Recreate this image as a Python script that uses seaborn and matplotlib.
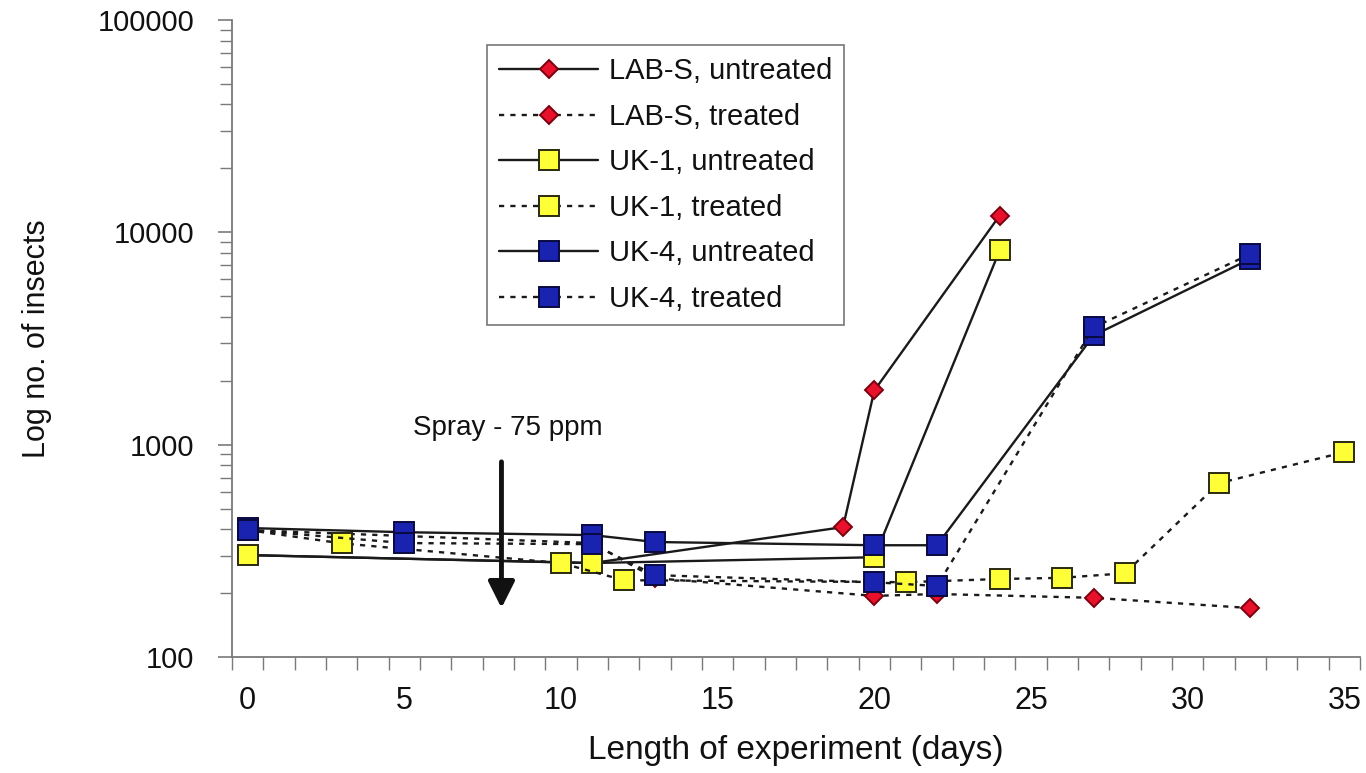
import numpy as np
import pandas as pd
import matplotlib
matplotlib.use("Agg")
import matplotlib.pyplot as plt
import seaborn as sns
from matplotlib.ticker import FixedLocator, LogLocator, NullFormatter, FuncFormatter

# ---------------- data ----------------
lab_u_days = [0, 11, 19, 20, 24]
lab_u_vals = [302, 277, 409, 1800, 12000]

lab_t_days = [0, 11, 13, 20, 22, 27, 32]
lab_t_vals = [396, 344, 235, 194, 198, 190, 170]

uk1_u_days = [0, 11, 20, 24]
uk1_u_vals = [302, 277, 295, 8220]

uk1_t_days = [0, 3, 10, 12, 21, 24, 26, 28, 31, 35]
uk1_t_vals = [396, 343, 277, 230, 225, 233, 236, 248, 659, 922]

uk4_u_days = [0, 5, 11, 13, 20, 22, 27, 32]
uk4_u_vals = [405, 387, 375, 348, 336, 336, 3270, 7500]

uk4_t_days = [0, 5, 11, 13, 20, 22, 27, 32]
uk4_t_vals = [396, 344, 340, 243, 225, 216, 3570, 7900]

series_labels = ["LAB-S, untreated", "LAB-S, treated",
                 "UK-1, untreated", "UK-1, treated",
                 "UK-4, untreated", "UK-4, treated"]

x_tick_values = [0, 5, 10, 15, 20, 25, 30, 35]
y_tick_values = [100, 1000, 10000, 100000]

spray_label = "Spray - 75 ppm"
spray_day = 8.1
spray_top = 830
spray_tip = 170
spray_text_val = 1110
spray_text_day = 8.3

# ---------------- styling ----------------
sns.set_theme(style="white")
plt.rcParams["font.family"] = ["Liberation Sans", "DejaVu Sans"]

RED = "#e8102a"; RED_E = "#7a0010"
YEL = "#ffff38"; YEL_E = "#2a2a10"
BLU = "#1a22b0"; BLU_E = "#0a0a40"
LINE = "#1a1a1a"
DASH = (0, (2.2, 2.6))

styles = [
    dict(days=lab_u_days, vals=lab_u_vals, ls="-",  marker="D", ms=9.5, fc=RED, ec=RED_E),
    dict(days=lab_t_days, vals=lab_t_vals, ls=DASH, marker="D", ms=9.5, fc=RED, ec=RED_E),
    dict(days=uk1_u_days, vals=uk1_u_vals, ls="-",  marker="s", ms=14, fc=YEL, ec=YEL_E),
    dict(days=uk1_t_days, vals=uk1_t_vals, ls=DASH, marker="s", ms=14, fc=YEL, ec=YEL_E),
    dict(days=uk4_u_days, vals=uk4_u_vals, ls="-",  marker="s", ms=14, fc=BLU, ec=BLU_E),
    dict(days=uk4_t_days, vals=uk4_t_vals, ls=DASH, marker="s", ms=14, fc=BLU, ec=BLU_E),
]

fig = plt.figure(figsize=(13.66, 7.73), dpi=100)
fig.patch.set_facecolor("white")
ax = fig.add_axes([232 / 1366, 116 / 773, 1128 / 1366, 637 / 773])
ax.set_facecolor("white")

for lab, st in zip(series_labels, styles):
    df = pd.DataFrame({"day": st["days"], "count": st["vals"]})
    sns.lineplot(data=df, x="day", y="count", ax=ax, color=LINE, lw=1.7,
                 linestyle=st["ls"], marker=st["marker"], markersize=st["ms"],
                 markerfacecolor=st["fc"], markeredgecolor=st["ec"],
                 markeredgewidth=1.4, label=lab, sort=True, estimator=None)

ax.set_yscale("log")
ax.set_ylim(100, 100000)
ax.set_xlim(-0.5, 35.5)

ax.yaxis.set_major_locator(FixedLocator(y_tick_values))
ax.yaxis.set_major_formatter(FuncFormatter(lambda v, p: f"{int(round(v))}"))
ax.yaxis.set_minor_locator(LogLocator(base=10, subs=np.arange(2, 10)))
ax.yaxis.set_minor_formatter(NullFormatter())

ax.xaxis.set_major_locator(FixedLocator(x_tick_values))
ax.xaxis.set_minor_locator(FixedLocator(np.arange(-0.5, 36, 1.0)))

GRAY = "#7a7a7a"
ax.tick_params(axis="y", which="major", direction="out", length=10, width=1.2,
               color=GRAY, labelsize=21, pad=17, left=True, labelcolor="#111")
ax.tick_params(axis="y", which="minor", direction="out", length=9, width=1.0,
               color=GRAY, left=True)
ax.tick_params(axis="x", which="major", length=0, labelsize=22, pad=21,
               bottom=True, labelcolor="#111")
ax.tick_params(axis="x", which="minor", direction="out", length=9, width=1.0,
               color=GRAY, bottom=True)

for s in ["top", "right"]:
    ax.spines[s].set_visible(False)
for s in ["left", "bottom"]:
    ax.spines[s].set_color(GRAY)
    ax.spines[s].set_linewidth(1.3)

ax.set_xlabel("Length of experiment (days)", fontsize=24, color="#111")
ax.set_ylabel("Log no. of insects", fontsize=22, color="#111")
ax.xaxis.set_label_coords(0.5, -0.122)
ax.yaxis.set_label_coords(-0.16, 0.5)

# spray annotation
ax.annotate("", xy=(spray_day, spray_tip), xytext=(spray_day, spray_top),
            arrowprops=dict(arrowstyle="-|>,head_length=0.8,head_width=0.4",
                            lw=3.5, color="#111", mutation_scale=20,
                            shrinkA=0, shrinkB=0))
ax.text(spray_text_day, spray_text_val, spray_label, ha="center",
        va="baseline", fontsize=20, color="#111")

handles, labels = ax.get_legend_handles_labels()
leg = ax.legend(handles, labels, loc="upper left",
                bbox_to_anchor=((487 - 232) / 1128, (657 - 45) / 637),
                borderaxespad=0, fontsize=21, frameon=True, fancybox=False,
                shadow=False, handlelength=3.4, handletextpad=0.35,
                labelspacing=0.6, borderpad=0.42, numpoints=1)
leg.get_frame().set_edgecolor("#555555")
leg.get_frame().set_linewidth(1.2)
for t in leg.get_texts():
    t.set_color("#111")

fig.savefig("out.png", dpi=100, facecolor="white")
